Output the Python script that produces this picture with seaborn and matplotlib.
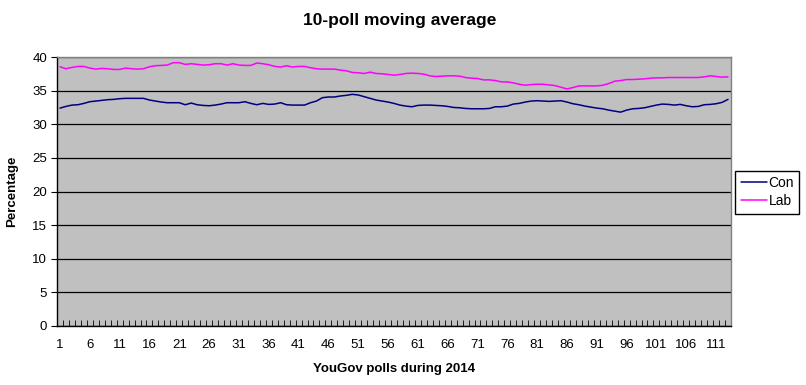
import numpy as np
import pandas as pd
import matplotlib
matplotlib.use("Agg")
import matplotlib.pyplot as plt
import seaborn as sns

title = "10-poll moving average"
x_label = "YouGov polls during 2014"
y_label = "Percentage"
series_names = ["Con", "Lab"]

con = [32.4, 32.65, 32.85, 32.9, 33.1, 33.35, 33.45, 33.55, 33.65, 33.7,
       33.8, 33.85, 33.85, 33.85, 33.85, 33.6, 33.45, 33.3, 33.2,
       33.2, 33.2, 32.9, 33.15, 32.9, 32.8, 32.75, 32.85, 33.0, 33.2,
       33.2, 33.2, 33.35, 33.1, 32.9, 33.1, 32.95, 33.0, 33.2,
       32.9, 32.85, 32.85, 32.85, 33.2, 33.45, 33.95, 34.05, 34.05, 34.2,
       34.3, 34.45, 34.35, 34.1, 33.85, 33.6, 33.45, 33.3, 33.1,
       32.85, 32.7, 32.6, 32.8, 32.85, 32.85, 32.8, 32.75, 32.65, 32.5,
       32.45, 32.35, 32.3, 32.3, 32.3, 32.35, 32.6, 32.6,
       32.7, 33.0, 33.1, 33.3, 33.45, 33.5, 33.45, 33.4, 33.45, 33.5,
       33.3, 33.05, 32.9, 32.7, 32.55, 32.4, 32.3, 32.1, 31.95,
       31.8, 32.1, 32.3, 32.35, 32.45, 32.65, 32.85, 33.0, 32.95, 32.85,
       32.95, 32.75, 32.6, 32.65, 32.9, 32.95, 33.05, 33.25, 33.7]

lab = [38.55, 38.25, 38.45, 38.6, 38.6, 38.35, 38.2, 38.3, 38.25, 38.15,
       38.15, 38.35, 38.25, 38.2, 38.25, 38.55, 38.7, 38.75, 38.8,
       39.15, 39.15, 38.9, 39.0, 38.9, 38.8, 38.85, 39.0, 39.0, 38.8,
       39.0, 38.8, 38.75, 38.75, 39.1, 39.0, 38.85, 38.6, 38.5,
       38.7, 38.5, 38.6, 38.6, 38.4, 38.25, 38.2, 38.2, 38.2, 38.05,
       37.95, 37.7, 37.65, 37.55, 37.75, 37.55, 37.5, 37.4, 37.3,
       37.4, 37.55, 37.6, 37.55, 37.45, 37.2, 37.1, 37.15, 37.2, 37.2,
       37.15, 36.95, 36.85, 36.8, 36.6, 36.6, 36.5, 36.3,
       36.3, 36.15, 35.95, 35.8, 35.9, 35.95, 35.95, 35.85, 35.75, 35.5,
       35.25, 35.45, 35.7, 35.7, 35.7, 35.7, 35.8, 36.05, 36.4,
       36.5, 36.65, 36.65, 36.7, 36.75, 36.85, 36.9, 36.9, 36.95, 36.95,
       36.95, 36.95, 36.95, 36.95, 37.05, 37.2, 37.1, 37.0, 37.05]

polls = list(range(1, len(con) + 1))
x_tick_labels = [str(v) for v in range(1, 112, 5)]
y_ticks = [0, 5, 10, 15, 20, 25, 30, 35, 40]

df = pd.DataFrame({
    "poll": polls * 2,
    "value": con + lab,
    "party": [series_names[0]] * len(con) + [series_names[1]] * len(lab),
})

sns.set_style("white")
plt.rcParams["font.family"] = ["Liberation Sans", "DejaVu Sans"]
plt.rcParams["text.color"] = "black"
plt.rcParams["axes.labelcolor"] = "black"
plt.rcParams["xtick.color"] = "black"
plt.rcParams["ytick.color"] = "black"

fig = plt.figure(figsize=(8.06, 3.85), dpi=100)
ax = fig.add_axes([57 / 806, 1 - 326 / 385, 674 / 806, 269 / 385])
ax.set_facecolor("#C0C0C0")

sns.lineplot(data=df, x="poll", y="value", hue="party",
             palette={"Con": "#000080", "Lab": "#FF00FF"},
             linewidth=1.1, ax=ax)

ax.set_xlim(0.5, len(con) + 0.5)
ax.set_ylim(0, 40)
ax.set_yticks(y_ticks)
ax.set_yticklabels([str(v) for v in y_ticks], fontsize=9.5)
ax.set_xticks([int(s) for s in x_tick_labels])
ax.set_xticklabels(x_tick_labels, fontsize=9.5)
ax.set_xticks(np.arange(0.5, len(con) + 1, 1), minor=True)
ax.tick_params(axis="x", which="major", length=0, pad=9)
ax.tick_params(axis="x", which="minor", bottom=True, direction="in",
               length=4, width=0.6, color="black")
ax.tick_params(axis="y", which="major", left=True, direction="out",
               length=4, width=0.8, color="black", pad=3)
ax.grid(axis="y", color="black", linewidth=0.9)
ax.set_axisbelow(True)

for side in ["top", "right"]:
    ax.spines[side].set_color("#808080")
    ax.spines[side].set_linewidth(1.0)
for side in ["left", "bottom"]:
    ax.spines[side].set_color("black")
    ax.spines[side].set_linewidth(1.0)

ax.set_xlabel(x_label, fontsize=9.5, fontweight="bold", labelpad=9)
ax.set_ylabel(y_label, fontsize=9.5, fontweight="bold", labelpad=10)
fig.text(400 / 806, 1 - 20 / 385, title, ha="center", va="center",
         fontsize=12.5, fontweight="bold")

handles, labels = ax.get_legend_handles_labels()
leg = ax.legend(handles, labels, loc="upper left", bbox_to_anchor=(1.006, 0.578),
                borderaxespad=0, frameon=True, fancybox=False, framealpha=1,
                edgecolor="black", fontsize=10, handlelength=1.9,
                handletextpad=0.1, borderpad=0.4, labelspacing=0.3)
leg.get_frame().set_linewidth(1.0)
for line in leg.get_lines():
    line.set_linewidth(1.1)

fig.savefig("out.png", dpi=100)
